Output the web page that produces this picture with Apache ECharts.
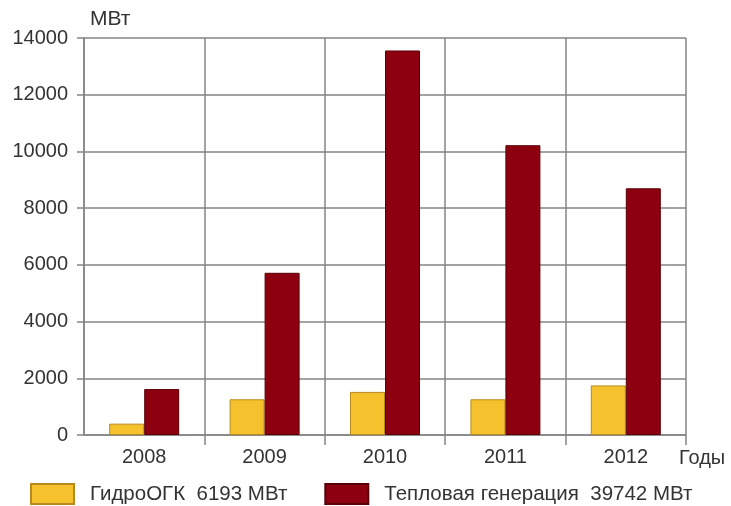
<!DOCTYPE html>
<html>
<head>
<meta charset="utf-8">
<script src="https://cdn.jsdelivr.net/npm/echarts@6/dist/echarts.min.js"></script>
<style>html,body{margin:0;padding:0;background:#fff}#c{width:731px;height:506px}</style>
</head>
<body>
<div id="c"></div>
<script>
var categories = ['2008', '2009', '2010', '2011', '2012'];
var hydroName = 'ГидроОГК  6193 МВт';
var thermalName = 'Тепловая генерация  39742 МВт';
var hydroValues = [400, 1260, 1520, 1260, 1750];
var thermalValues = [1620, 5720, 13560, 10220, 8700];
var yUnit = 'МВт';
var xUnit = 'Годы';

var chart = echarts.init(document.getElementById('c'));
var font = 'Liberation Sans, Arial, sans-serif';
var gridColor = '#858585';
chart.setOption({
  animation: false,
  backgroundColor: '#fff',
  grid: {left: 84, right: 45, top: 38, bottom: 71, containLabel: false},
  legend: {
    left: 30, top: 483, padding: 0,
    itemWidth: 43, itemHeight: 20, itemGap: 37,
    icon: 'rect',
    textStyle: {fontFamily: font, fontSize: 20.5, color: '#333', padding: [0, 0, 0, 11]},
    data: [hydroName, thermalName]
  },
  xAxis: {
    type: 'category',
    data: categories,
    name: xUnit,
    nameLocation: 'end',
    nameGap: -7,
    nameTextStyle: {fontFamily: font, fontSize: 20, color: '#333', align: 'left', verticalAlign: 'top', padding: [13, 0, 0, 0]},
    axisLine: {lineStyle: {color: gridColor, width: 1.5}},
    axisTick: {show: true, length: 10, lineStyle: {color: gridColor, width: 1.5},
      interval: function (i) { return i > 0 && i < categories.length; }},
    axisLabel: {fontFamily: font, fontSize: 20, color: '#333', margin: 12},
    splitLine: {show: true, lineStyle: {color: gridColor, width: 1.5}}
  },
  yAxis: {
    type: 'value',
    min: 0, max: 14000, interval: 2000,
    name: yUnit,
    nameLocation: 'end',
    nameGap: 8,
    nameTextStyle: {fontFamily: font, fontSize: 21, color: '#333', align: 'left', padding: [0, 0, 0, 6]},
    axisLine: {show: true, lineStyle: {color: gridColor, width: 1.5}},
    axisTick: {show: true, length: 7, lineStyle: {color: gridColor, width: 1.5}},
    axisLabel: {fontFamily: font, fontSize: 20, color: '#333', margin: 16,
      formatter: function (v) { return String(v); }},
    splitLine: {show: true, lineStyle: {color: gridColor, width: 1.5}}
  },
  series: [
    {name: hydroName, type: 'bar', data: hydroValues, barWidth: 35, barGap: '0%',
     itemStyle: {color: '#F5C22E', borderColor: '#B88A1C', borderWidth: 1}},
    {name: thermalName, type: 'bar', data: thermalValues, barWidth: 35,
     itemStyle: {color: '#8C0010', borderColor: '#5A0008', borderWidth: 1}}
  ]
});
</script>
</body>
</html>
